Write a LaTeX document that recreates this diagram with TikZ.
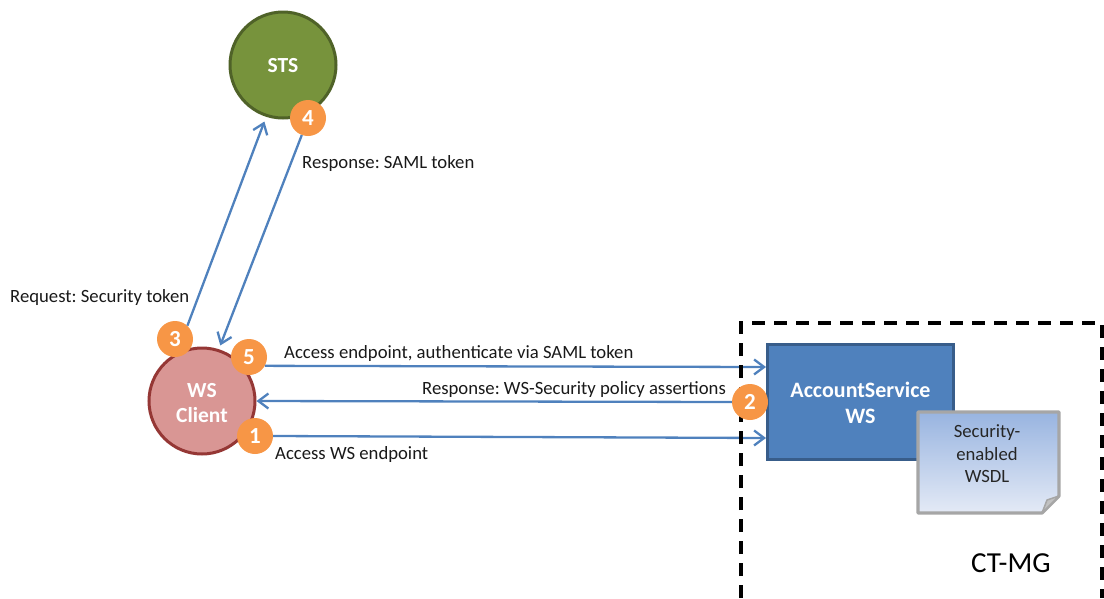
\documentclass[tikz,border=0pt]{standalone}
\usepackage{fontspec}
\setmainfont{Carlito}
\usetikzlibrary{arrows.meta}
\frenchspacing
\definecolor{arrowblue}{HTML}{4F81BD}
\definecolor{boxedge}{HTML}{385D8A}
\definecolor{clientfill}{HTML}{D99694}
\definecolor{clientedge}{HTML}{953735}
\definecolor{stsfill}{HTML}{77933C}
\definecolor{stsedge}{HTML}{4F6228}
\definecolor{badgefill}{HTML}{F79646}
\definecolor{notetop}{RGB}{152,180,224}
\definecolor{notebottom}{RGB}{228,234,246}
\definecolor{noteedge}{RGB}{166,166,166}
\tikzset{
  x=1pt,y=-1pt,
  actor/.style={circle,draw,line width=3pt,minimum size=106pt,inner sep=0pt,text=white,align=center,font=\fontsize{21.5}{25.5}\selectfont\bfseries},
  badge/.style={circle,fill=badgefill,minimum size=36pt,inner sep=0pt,text=white,font=\fontsize{23}{25}\selectfont\bfseries},
  link/.style={draw=arrowblue,line width=2.3pt,-{Straight Barb[length=10pt,width=15pt,line width=2.3pt]}},
  lbl/.style={inner sep=0pt,anchor=base west,text=black!90,font=\fontsize{18.7}{22}\selectfont},
}
\begin{document}
\begin{tikzpicture}
\useasboundingbox (0,0) rectangle (1104,598);
\node[actor,fill=stsfill,draw=stsedge] (sts) at (283,65) {\raisebox{-1pt}[\height][\depth]{STS}};
\node[actor,fill=clientfill,draw=clientedge] (client) at (202,401) {\raisebox{-2pt}[\height][\depth]{WS}\\\raisebox{-2pt}[\height][\depth]{Client}};
\node[draw=boxedge,fill=arrowblue,line width=3pt,minimum width=186pt,minimum height=115pt,inner sep=0pt] (box) at (860.5,402) {};
\node[inner sep=0pt,text=white,align=center,font=\fontsize{22}{26}\selectfont\bfseries] (boxlabel) at (860.5,402.5) {AccountService\\WS};
\node[badge] (b1) at (255,436) {1};
\node[badge] (b3) at (175,339) {3};
\node[badge] (b4) at (308,118) {4};
\node[badge] (b5) at (249,357) {5};
% connectors under the frame
\draw[link,shorten >=5pt] (b3.47) -- (sts.252);
\draw[link,shorten >=4pt] (b4.250) -- (client.72);
\draw[link] (b5.-29) -- ([yshift=35pt]box.west);
\draw[link] (b1.east) -- ([yshift=-36pt]box.west);
% dashed frame
\draw[black,line width=3.4pt,dash pattern=on 13pt off 9pt] (741,598) -- (741,323) -- (1102,323) -- (1102,598);
\node[badge] (b2) at (750,402) {2};
\draw[link] (b2.west) -- (client.east);
% note
\path[draw=noteedge,line width=3.2pt,top color=notetop,bottom color=notebottom,line join=round]
  (918,412) -- (1059,412) -- (1059,496) -- (1042,513) -- (918,513) -- cycle;
\path[draw=noteedge,fill=noteedge!70!white,line width=1.5pt,line join=round] (1059,496) -- (1047,500) -- (1042,513) -- cycle;
\node[inner sep=0pt,align=center,text=black!85,font=\fontsize{18.7}{22.5}\selectfont] (notelabel) at (987,454) {Security-\\enabled\\WSDL};
% labels
\node[lbl] (l1) at (10,302) {Request: Security token};
\node[lbl] (l2) at (302,168) {Response: SAML token};
\node[lbl] (l3) at (284,358) {Access endpoint, authenticate via SAML token};
\node[lbl] (l4) at (422,394) {Response: WS-Security policy assertions};
\node[lbl] (l5) at (275,459) {Access WS endpoint};
\node[inner sep=0pt,anchor=base west,font=\fontsize{29}{32}\selectfont] (l6) at (971,572) {CT-MG};
\end{tikzpicture}
\end{document}
